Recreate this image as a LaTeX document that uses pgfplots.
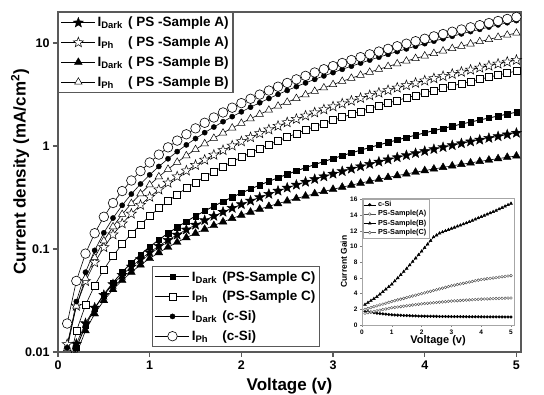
\documentclass[border=0pt]{standalone}
\usepackage{fontspec}
\setmainfont{Liberation Sans}
\usepackage{pgfplots}
\pgfplotsset{compat=1.18}
\pgfdeclareplotmark{pstar}{%
  \pgfpathmoveto{\pgfpointpolar{90}{\pgfplotmarksize}}%
  \pgfpathlineto{\pgfpointpolar{126}{0.42\pgfplotmarksize}}%
  \pgfpathlineto{\pgfpointpolar{162}{\pgfplotmarksize}}%
  \pgfpathlineto{\pgfpointpolar{198}{0.42\pgfplotmarksize}}%
  \pgfpathlineto{\pgfpointpolar{234}{\pgfplotmarksize}}%
  \pgfpathlineto{\pgfpointpolar{270}{0.42\pgfplotmarksize}}%
  \pgfpathlineto{\pgfpointpolar{306}{\pgfplotmarksize}}%
  \pgfpathlineto{\pgfpointpolar{342}{0.42\pgfplotmarksize}}%
  \pgfpathlineto{\pgfpointpolar{18}{\pgfplotmarksize}}%
  \pgfpathlineto{\pgfpointpolar{54}{0.42\pgfplotmarksize}}%
  \pgfpathclose
  \pgfusepathqfillstroke
}
\pgfplotsset{
  fstar/.style={black, line width=0.6pt, mark=pstar, mark size=5.3pt, mark options={solid, fill=black, line width=0.4pt}},
  ostar/.style={black, line width=0.6pt, mark=pstar, mark size=5.3pt, mark options={solid, fill=white, line width=0.5pt}},
  ftri/.style={black, line width=0.6pt, mark=triangle*, mark size=4.5pt, mark options={solid, fill=black, line width=0.4pt}},
  otri/.style={black, line width=0.6pt, mark=triangle*, mark size=4.3pt, mark options={solid, fill=white, line width=0.5pt}},
  fsq/.style={black, line width=0.9pt, mark=square*, mark size=2.7pt, mark options={solid, fill=black, line width=0.4pt}},
  osq/.style={black, line width=0.6pt, mark=square*, mark size=3.5pt, mark options={solid, fill=white, line width=0.6pt}},
  fcirc/.style={black, line width=0.6pt, mark=*, mark size=2.6pt, mark options={solid, fill=black, line width=0.4pt}},
  ocirc/.style={black, line width=0.6pt, mark=*, mark size=4.8pt, mark options={solid, fill=white, line width=0.6pt}},
  bigleg/.style={legend cell align=left,
    legend image code/.code={\draw[mark repeat=2,mark phase=2,##1] plot coordinates {(0pt,0pt) (17pt,0pt) (34pt,0pt)};},
    legend style={draw=black!65, line width=1.1pt, fill=white, font=\bfseries\fontsize{13.5}{15}\selectfont, inner sep=2.5pt, row sep=4.5pt}},
  mainbox/.style={at={(0pt,0pt)}, anchor=south west, scale only axis, width=463pt, height=340pt},
}
\newcommand{\Id}{\makebox[2.25em][l]{I\textsubscript{Dark}}}
\newcommand{\Ip}{\makebox[2.25em][l]{I\textsubscript{Ph}}}
\begin{document}
\begin{tikzpicture}
\useasboundingbox (-58pt,-42pt) rectangle (486pt,352pt);
\begin{axis}[mainbox, bigleg,
  ymode=log, xmin=0, xmax=5.05, ymin=0.01, ymax=20,
  xtick={0,1,2,3,4,5}, ytick={0.01,0.1,1,10}, yticklabels={0.01,0.1,1,10},
  yminorticks=false,
  /pgf/number format/assume math mode=true,
  tick label style={font=\bfseries\fontsize{12.5}{14}\selectfont},
  xtick pos=bottom, ytick pos=left, tick align=outside, major tick length=5pt,
  tick style={black!65, line width=1.1pt},
  axis line style={draw=black!65, line width=1.2pt},
  xlabel={Voltage (v)}, ylabel={Current density (mA/cm\textsuperscript{2})},
  label style={font=\bfseries\fontsize{17}{19}\selectfont},
  xlabel style={at={(axis description cs:0.5,0)}, anchor=center, yshift=-34pt},
  ylabel style={at={(axis description cs:-0.082,0.53)}, anchor=center},
  legend style={at={(rel axis cs:0,1)}, anchor=north west},
]
\addplot[fstar] coordinates {(0.1,0.00604)(0.2,0.0120)(0.3,0.0190)(0.4,0.0269)(0.5,0.0357)(0.6,0.0454)(0.7,0.0559)(0.8,0.0674)(0.9,0.0797)(1.0,0.0929)(1.1,0.107)(1.2,0.122)(1.3,0.1375)(1.4,0.154)(1.5,0.1715)(1.6,0.190)(1.7,0.209)(1.8,0.229)(1.9,0.250)(2.0,0.2715)(2.1,0.294)(2.2,0.3175)(2.3,0.342)(2.4,0.367)(2.5,0.393)(2.6,0.420)(2.7,0.448)(2.8,0.4765)(2.9,0.506)(3.0,0.536)(3.1,0.568)(3.2,0.600)(3.3,0.633)(3.4,0.6675)(3.5,0.7025)(3.6,0.738)(3.7,0.775)(3.8,0.8125)(3.9,0.851)(4.0,0.891)(4.1,0.931)(4.2,0.973)(4.3,1.015)(4.4,1.059)(4.5,1.103)(4.6,1.148)(4.7,1.194)(4.8,1.241)(4.9,1.290)(5.0,1.339)};
\addlegendentry{\Id( PS -Sample A)}
\addplot[ostar] coordinates {(0.1,0.0119)(0.2,0.0280)(0.3,0.0487)(0.4,0.0740)(0.5,0.1038)(0.6,0.138)(0.7,0.1767)(0.8,0.2198)(0.9,0.2676)(1.0,0.320)(1.1,0.377)(1.2,0.4386)(1.3,0.5048)(1.4,0.576)(1.5,0.652)(1.6,0.733)(1.7,0.819)(1.8,0.910)(1.9,1.006)(2.0,1.107)(2.1,1.214)(2.2,1.326)(2.3,1.443)(2.4,1.565)(2.5,1.693)(2.6,1.827)(2.7,1.966)(2.8,2.110)(2.9,2.261)(3.0,2.416)(3.1,2.578)(3.2,2.746)(3.3,2.919)(3.4,3.099)(3.5,3.285)(3.6,3.477)(3.7,3.675)(3.8,3.879)(3.9,4.090)(4.0,4.307)(4.1,4.530)(4.2,4.758)(4.3,4.996)(4.4,5.239)(4.5,5.487)(4.6,5.744)(4.7,6.007)(4.8,6.274)(4.9,6.552)(5.0,6.835)};
\addlegendentry{\Ip( PS -Sample A)}
\addplot[ftri] coordinates {(0.1,0.00399)(0.2,0.00955)(0.3,0.0161)(0.4,0.0235)(0.5,0.0316)(0.6,0.0404)(0.7,0.0497)(0.8,0.0596)(0.9,0.0700)(1.0,0.0809)(1.1,0.0923)(1.2,0.1041)(1.3,0.1163)(1.4,0.1289)(1.5,0.1420)(1.6,0.1555)(1.7,0.1693)(1.8,0.1835)(1.9,0.1982)(2.0,0.2130)(2.1,0.2283)(2.2,0.2438)(2.3,0.2598)(2.4,0.2760)(2.5,0.2925)(2.6,0.3095)(2.7,0.3267)(2.8,0.3445)(2.9,0.3623)(3.0,0.3803)(3.1,0.3988)(3.2,0.4174)(3.3,0.4365)(3.4,0.4558)(3.5,0.4754)(3.6,0.4953)(3.7,0.5154)(3.8,0.5358)(3.9,0.5565)(4.0,0.5774)(4.1,0.5985)(4.2,0.6198)(4.3,0.6418)(4.4,0.6639)(4.5,0.6858)(4.6,0.7085)(4.7,0.7311)(4.8,0.7539)(4.9,0.7773)(5.0,0.8007)};
\addlegendentry{\Id( PS -Sample B)}
\addplot[otri] coordinates {(0.1,0.0108)(0.2,0.0280)(0.3,0.0519)(0.4,0.0826)(0.5,0.1202)(0.6,0.1650)(0.7,0.2171)(0.8,0.2768)(0.9,0.3442)(1.0,0.4198)(1.1,0.5035)(1.2,0.5957)(1.3,0.6966)(1.4,0.8064)(1.5,0.9256)(1.6,1.054)(1.7,1.191)(1.8,1.339)(1.9,1.497)(2.0,1.664)(2.1,1.843)(2.2,2.032)(2.3,2.232)(2.4,2.443)(2.5,2.666)(2.6,2.900)(2.7,3.145)(2.8,3.403)(2.9,3.672)(3.0,3.954)(3.1,4.249)(3.2,4.554)(3.3,4.877)(3.4,5.212)(3.5,5.558)(3.6,5.918)(3.7,6.293)(3.8,6.680)(3.9,7.084)(4.0,7.502)(4.1,7.932)(4.2,8.378)(4.3,8.841)(4.4,9.320)(4.5,9.808)(4.6,10.32)(4.7,10.84)(4.8,11.38)(4.9,11.94)(5.0,12.51)};
\addlegendentry{\Ip( PS -Sample B)}
\addplot[fsq, forget plot] coordinates {(0.1,0.00522)(0.2,0.0110)(0.3,0.0180)(0.4,0.0265)(0.5,0.0362)(0.6,0.0472)(0.7,0.0596)(0.8,0.0734)(0.9,0.0885)(1.0,0.1050)(1.1,0.1229)(1.2,0.1422)(1.3,0.1628)(1.4,0.1851)(1.5,0.2088)(1.6,0.2339)(1.7,0.2605)(1.8,0.2888)(1.9,0.3187)(2.0,0.3499)(2.1,0.3829)(2.2,0.4174)(2.3,0.4537)(2.4,0.4916)(2.5,0.5313)(2.6,0.5727)(2.7,0.6157)(2.8,0.6605)(2.9,0.7068)(3.0,0.7551)(3.1,0.8056)(3.2,0.8570)(3.3,0.9113)(3.4,0.9672)(3.5,1.025)(3.6,1.084)(3.7,1.145)(3.8,1.209)(3.9,1.274)(4.0,1.342)(4.1,1.411)(4.2,1.482)(4.3,1.556)(4.4,1.632)(4.5,1.709)(4.6,1.789)(4.7,1.871)(4.8,1.955)(4.9,2.042)(5.0,2.130)};
\addplot[osq, forget plot] coordinates {(0.1,0.00641)(0.2,0.0159)(0.3,0.0285)(0.4,0.0444)(0.5,0.0634)(0.6,0.0858)(0.7,0.1114)(0.8,0.1405)(0.9,0.1729)(1.0,0.2089)(1.1,0.2485)(1.2,0.2918)(1.3,0.3386)(1.4,0.3895)(1.5,0.4441)(1.6,0.5027)(1.7,0.5652)(1.8,0.6323)(1.9,0.7031)(2.0,0.7778)(2.1,0.8571)(2.2,0.9413)(2.3,1.029)(2.4,1.122)(2.5,1.219)(2.6,1.322)(2.7,1.429)(2.8,1.540)(2.9,1.656)(3.0,1.777)(3.1,1.904)(3.2,2.035)(3.3,2.171)(3.4,2.314)(3.5,2.460)(3.6,2.613)(3.7,2.771)(3.8,2.934)(3.9,3.102)(4.0,3.278)(4.1,3.457)(4.2,3.642)(4.3,3.836)(4.4,4.033)(4.5,4.236)(4.6,4.445)(4.7,4.661)(4.8,4.881)(4.9,5.110)(5.0,5.345)};
\addplot[fcirc, forget plot] coordinates {(0.1,0.0110)(0.2,0.0309)(0.3,0.0595)(0.4,0.0970)(0.5,0.1437)(0.6,0.1998)(0.7,0.2657)(0.8,0.3416)(0.9,0.4278)(1.0,0.5248)(1.1,0.6329)(1.2,0.7518)(1.3,0.8824)(1.4,1.025)(1.5,1.181)(1.6,1.348)(1.7,1.528)(1.8,1.722)(1.9,1.928)(2.0,2.148)(2.1,2.381)(2.2,2.630)(2.3,2.893)(2.4,3.172)(2.5,3.463)(2.6,3.773)(2.7,4.098)(2.8,4.437)(2.9,4.792)(3.0,5.163)(3.1,5.556)(3.2,5.957)(3.3,6.383)(3.4,6.825)(3.5,7.283)(3.6,7.759)(3.7,8.256)(3.8,8.770)(3.9,9.303)(4.0,9.856)(4.1,10.42)(4.2,11.01)(4.3,11.63)(4.4,12.26)(4.5,12.91)(4.6,13.58)(4.7,14.28)(4.8,14.99)(4.9,15.73)(5.0,16.49)};
\addplot[ocirc, forget plot] coordinates {(0.1,0.0189)(0.2,0.0490)(0.3,0.0902)(0.4,0.1423)(0.5,0.2054)(0.6,0.2797)(0.7,0.3652)(0.8,0.4623)(0.9,0.5710)(1.0,0.6918)(1.1,0.8249)(1.2,0.9703)(1.3,1.128)(1.4,1.299)(1.5,1.483)(1.6,1.680)(1.7,1.891)(1.8,2.116)(1.9,2.355)(2.0,2.607)(2.1,2.874)(2.2,3.155)(2.3,3.453)(2.4,3.765)(2.5,4.093)(2.6,4.436)(2.7,4.797)(2.8,5.170)(2.9,5.562)(3.0,5.967)(3.1,6.394)(3.2,6.830)(3.3,7.290)(3.4,7.766)(3.5,8.258)(3.6,8.770)(3.7,9.299)(3.8,9.845)(3.9,10.41)(4.0,10.99)(4.1,11.60)(4.2,12.21)(4.3,12.86)(4.4,13.52)(4.5,14.20)(4.6,14.90)(4.7,15.62)(4.8,16.35)(4.9,17.12)(5.0,17.89)};
\end{axis}
% second legend
\begin{axis}[mainbox, bigleg, hide axis, xmin=0, xmax=1, ymin=0, ymax=1,
  legend style={at={(rel axis cs:0.203,0.015)}, anchor=south west}]
\addlegendimage{fsq}
\addlegendentry{\Id(PS-Sample C)}
\addlegendimage{osq}
\addlegendentry{\Ip(PS-Sample C)}
\addlegendimage{fcirc}
\addlegendentry{\Id(c-Si)}
\addlegendimage{ocirc}
\addlegendentry{\Ip(c-Si)}
\end{axis}
% inset
\begin{axis}[at={(304pt,27pt)}, anchor=south west, scale only axis, width=152pt, height=127pt,
  xmin=0, xmax=5.1, ymin=0, ymax=16.2,
  xtick={0,1,2,3,4,5}, ytick={0,2,4,6,8,10,12,14,16},
  /pgf/number format/assume math mode=true,
  tick label style={font=\bfseries\fontsize{6.5}{7}\selectfont},
  xtick pos=bottom, ytick pos=left, tick align=outside, major tick length=2pt,
  tick style={black!50, line width=0.5pt},
  axis line style={draw=black!35, line width=0.8pt},
  xticklabel style={yshift=1pt}, yticklabel style={xshift=1pt},
  xlabel={Voltage (v)}, ylabel={Current Gain},
  xlabel style={font=\bfseries\fontsize{11}{12}\selectfont, at={(axis description cs:0.5,0)}, anchor=center, yshift=-16pt},
  ylabel style={font=\bfseries\fontsize{8.5}{9}\selectfont, at={(axis description cs:-0.12,0.5)}, anchor=center},
  legend cell align=left,
  legend image code/.code={\draw[mark repeat=2,mark phase=2,#1] plot coordinates {(0pt,0pt) (6pt,0pt) (12pt,0pt)};},
  legend style={at={(rel axis cs:0.005,0.995)}, anchor=north west, draw=black!35, line width=0.5pt,
    font=\bfseries\fontsize{7.3}{7.5}\selectfont, inner sep=0.5pt, row sep=-1.5pt},
]
\addplot[black, line width=0.5pt, mark=*, mark size=1.3pt, mark options={solid, fill=black}] coordinates {(0.1,1.75)(0.2,1.70)(0.3,1.64)(0.4,1.57)(0.5,1.50)(0.6,1.46)(0.7,1.42)(0.8,1.38)(0.9,1.34)(1.0,1.30)(1.1,1.28)(1.2,1.26)(1.3,1.24)(1.4,1.22)(1.5,1.20)(1.6,1.19)(1.7,1.17)(1.8,1.16)(1.9,1.14)(2.0,1.13)(2.1,1.124)(2.2,1.118)(2.3,1.112)(2.4,1.106)(2.5,1.100)(2.6,1.094)(2.7,1.088)(2.8,1.082)(2.9,1.076)(3.0,1.070)(3.1,1.067)(3.2,1.064)(3.3,1.061)(3.4,1.058)(3.5,1.055)(3.6,1.052)(3.7,1.049)(3.8,1.046)(3.9,1.043)(4.0,1.040)(4.1,1.038)(4.2,1.036)(4.3,1.034)(4.4,1.032)(4.5,1.030)(4.6,1.028)(4.7,1.026)(4.8,1.024)(4.9,1.022)(5.0,1.020)};
\addlegendentry{c-Si}
\addplot[black!70, line width=0.4pt, mark=*, mark size=1.4pt, mark options={solid, fill=white, draw=black!70}] coordinates {(0.1,2.00)(0.2,2.11)(0.3,2.22)(0.4,2.33)(0.5,2.44)(0.6,2.56)(0.7,2.67)(0.8,2.78)(0.9,2.89)(1.0,3.00)(1.1,3.10)(1.2,3.20)(1.3,3.30)(1.4,3.40)(1.5,3.50)(1.6,3.60)(1.7,3.70)(1.8,3.80)(1.9,3.90)(2.0,4.00)(2.1,4.10)(2.2,4.20)(2.3,4.30)(2.4,4.40)(2.5,4.50)(2.6,4.60)(2.7,4.70)(2.8,4.80)(2.9,4.90)(3.0,5.00)(3.1,5.08)(3.2,5.16)(3.3,5.24)(3.4,5.32)(3.5,5.40)(3.6,5.48)(3.7,5.56)(3.8,5.64)(3.9,5.72)(4.0,5.80)(4.1,5.85)(4.2,5.90)(4.3,5.95)(4.4,6.00)(4.5,6.05)(4.6,6.10)(4.7,6.15)(4.8,6.20)(4.9,6.25)(5.0,6.30)};
\addlegendentry{PS-Sample(A)}
\addplot[black, line width=0.5pt, mark=triangle*, mark size=1.6pt, mark options={solid, fill=black}] coordinates {(0.1,2.60)(0.2,2.85)(0.3,3.10)(0.4,3.35)(0.5,3.60)(0.6,3.92)(0.7,4.24)(0.8,4.56)(0.9,4.88)(1.0,5.20)(1.1,5.60)(1.2,6.00)(1.3,6.40)(1.4,6.80)(1.5,7.20)(1.6,7.64)(1.7,8.08)(1.8,8.52)(1.9,8.96)(2.0,9.40)(2.1,9.85)(2.2,10.30)(2.3,10.75)(2.4,11.20)(2.5,11.45)(2.6,11.70)(2.7,11.85)(2.8,12.00)(2.9,12.15)(3.0,12.30)(3.1,12.44)(3.2,12.58)(3.3,12.72)(3.4,12.86)(3.5,13.00)(3.6,13.16)(3.7,13.32)(3.8,13.48)(3.9,13.64)(4.0,13.80)(4.1,13.96)(4.2,14.12)(4.3,14.28)(4.4,14.44)(4.5,14.60)(4.6,14.78)(4.7,14.96)(4.8,15.14)(4.9,15.32)(5.0,15.50)};
\addlegendentry{PS-Sample(B)}
\addplot[black!70, line width=0.4pt, mark=*, mark size=1.4pt, mark options={solid, fill=white, draw=black!70}] coordinates {(0.1,1.50)(0.2,1.58)(0.3,1.66)(0.4,1.73)(0.5,1.81)(0.6,1.89)(0.7,1.97)(0.8,2.04)(0.9,2.12)(1.0,2.20)(1.1,2.25)(1.2,2.30)(1.3,2.35)(1.4,2.40)(1.5,2.45)(1.6,2.50)(1.7,2.55)(1.8,2.60)(1.9,2.65)(2.0,2.70)(2.1,2.735)(2.2,2.77)(2.3,2.805)(2.4,2.84)(2.5,2.875)(2.6,2.91)(2.7,2.945)(2.8,2.98)(2.9,3.015)(3.0,3.05)(3.1,3.075)(3.2,3.10)(3.3,3.125)(3.4,3.15)(3.5,3.175)(3.6,3.20)(3.7,3.225)(3.8,3.25)(3.9,3.275)(4.0,3.30)(4.1,3.315)(4.2,3.33)(4.3,3.345)(4.4,3.36)(4.5,3.375)(4.6,3.39)(4.7,3.405)(4.8,3.42)(4.9,3.435)(5.0,3.45)};
\addlegendentry{PS-Sample(C)}
\end{axis}
\end{tikzpicture}
\end{document}
